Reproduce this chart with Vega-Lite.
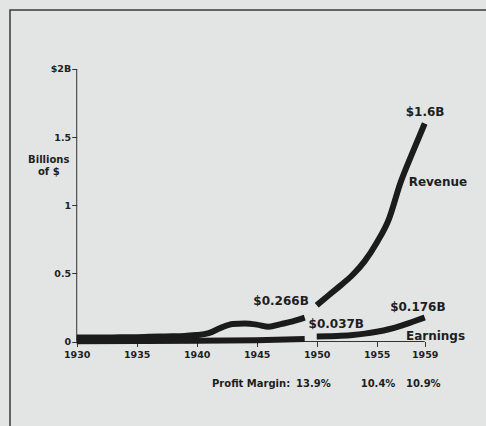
{
  "$schema": "https://vega.github.io/schema/vega-lite/v6.json",
  "width": 492,
  "height": 420,
  "autosize": {"type": "none"},
  "padding": {"left": 10, "top": 10, "right": 0, "bottom": 0},
  "background": "#e3e5e4",
  "config": {
    "view": {"stroke": "#3a3a3a", "strokeWidth": 1.5},
    "font": "DejaVu Sans",
    "axis": {"grid": false, "domain": false, "title": null, "labelFont": "DejaVu Sans", "labelFontWeight": "bold", "labelColor": "#222222", "tickColor": "#333333", "tickSize": 5, "tickWidth": 1}
  },
  "datasets": {
    "series": [
      {"year": 1930, "value": 0.030, "seg": "rev1"},
      {"year": 1931, "value": 0.030, "seg": "rev1"},
      {"year": 1932, "value": 0.030, "seg": "rev1"},
      {"year": 1933, "value": 0.030, "seg": "rev1"},
      {"year": 1934, "value": 0.031, "seg": "rev1"},
      {"year": 1935, "value": 0.032, "seg": "rev1"},
      {"year": 1936, "value": 0.034, "seg": "rev1"},
      {"year": 1937, "value": 0.036, "seg": "rev1"},
      {"year": 1938, "value": 0.038, "seg": "rev1"},
      {"year": 1939, "value": 0.041, "seg": "rev1"},
      {"year": 1940, "value": 0.047, "seg": "rev1"},
      {"year": 1941, "value": 0.062, "seg": "rev1"},
      {"year": 1942, "value": 0.100, "seg": "rev1"},
      {"year": 1943, "value": 0.128, "seg": "rev1"},
      {"year": 1944, "value": 0.132, "seg": "rev1"},
      {"year": 1945, "value": 0.124, "seg": "rev1"},
      {"year": 1946, "value": 0.108, "seg": "rev1"},
      {"year": 1947, "value": 0.128, "seg": "rev1"},
      {"year": 1948, "value": 0.148, "seg": "rev1"},
      {"year": 1949, "value": 0.175, "seg": "rev1"},
      {"year": 1950, "value": 0.266, "seg": "rev2"},
      {"year": 1951, "value": 0.340, "seg": "rev2"},
      {"year": 1952, "value": 0.412, "seg": "rev2"},
      {"year": 1953, "value": 0.490, "seg": "rev2"},
      {"year": 1954, "value": 0.590, "seg": "rev2"},
      {"year": 1955, "value": 0.725, "seg": "rev2"},
      {"year": 1956, "value": 0.895, "seg": "rev2"},
      {"year": 1957, "value": 1.170, "seg": "rev2"},
      {"year": 1958, "value": 1.390, "seg": "rev2"},
      {"year": 1959, "value": 1.600, "seg": "rev2"},
      {"year": 1930, "value": 0.002, "seg": "earn1"},
      {"year": 1935, "value": 0.003, "seg": "earn1"},
      {"year": 1940, "value": 0.005, "seg": "earn1"},
      {"year": 1945, "value": 0.010, "seg": "earn1"},
      {"year": 1949, "value": 0.018, "seg": "earn1"},
      {"year": 1950, "value": 0.037, "seg": "earn2"},
      {"year": 1951, "value": 0.038, "seg": "earn2"},
      {"year": 1952, "value": 0.042, "seg": "earn2"},
      {"year": 1953, "value": 0.048, "seg": "earn2"},
      {"year": 1954, "value": 0.058, "seg": "earn2"},
      {"year": 1955, "value": 0.072, "seg": "earn2"},
      {"year": 1956, "value": 0.090, "seg": "earn2"},
      {"year": 1957, "value": 0.115, "seg": "earn2"},
      {"year": 1958, "value": 0.145, "seg": "earn2"},
      {"year": 1959, "value": 0.176, "seg": "earn2"}
    ],
    "axislines": [
      {"x": 1930, "x2": 1930, "y": 0, "y2": 2},
      {"x": 1930, "x2": 1959, "y": 0, "y2": 0}
    ],
    "bigLabels": [
      {"year": 1959.03, "value": 1.687, "label": "$1.6B"},
      {"year": 1960.1, "value": 1.173, "label": "Revenue"},
      {"year": 1947.03, "value": 0.30, "label": "$0.266B"},
      {"year": 1951.63, "value": 0.128, "label": "$0.037B"},
      {"year": 1958.43, "value": 0.251, "label": "$0.176B"},
      {"year": 1959.9, "value": 0.043, "label": "Earnings"}
    ],
    "smallLabels": [
      {"year": 1927.67, "value": 1.334, "label": "Billions"},
      {"year": 1927.67, "value": 1.243, "label": "of $"},
      {"year": 1944.53, "value": -0.314, "label": "Profit Margin:"},
      {"year": 1949.72, "value": -0.314, "label": "13.9%"},
      {"year": 1955.11, "value": -0.314, "label": "10.4%"},
      {"year": 1958.88, "value": -0.314, "label": "10.9%"}
    ]
  },
  "encoding": {
    "x": {"field": "year", "type": "quantitative", "scale": {"domain": [1924.44, 1965.44], "zero": false, "nice": false},
      "axis": {"orient": "bottom", "offset": -88.5, "values": [1930, 1935, 1940, 1945, 1950, 1955, 1959], "format": "d", "labelFontSize": 9.5, "labelPadding": 3, "labelFlush": false}},
    "y": {"field": "value", "type": "quantitative", "scale": {"domain": [-0.6495, 2.433], "zero": false, "nice": false},
      "axis": {"orient": "left", "offset": -66.7, "values": [0, 0.5, 1, 1.5, 2], "format": ".1~f", "labelExpr": "datum.value == 2 ? '$2B' : datum.label", "labelFontSize": 9.5, "labelPadding": 1}}
  },
  "layer": [
    {
      "data": {"name": "axislines"},
      "mark": {"type": "rule", "color": "#333333", "strokeWidth": 1},
      "encoding": {
        "x": {"field": "x", "type": "quantitative"},
        "x2": {"field": "x2"},
        "y": {"field": "y", "type": "quantitative"},
        "y2": {"field": "y2"}
      }
    },
    {
      "data": {"name": "series"},
      "mark": {"type": "line", "color": "#1b1b1b", "strokeWidth": 6, "interpolate": "monotone", "strokeCap": "butt"},
      "encoding": {"detail": {"field": "seg", "type": "nominal"}}
    },
    {
      "data": {"name": "bigLabels"},
      "mark": {"type": "text", "font": "DejaVu Sans", "fontWeight": "bold", "fontSize": 12, "color": "#1e1e1e", "align": "center", "baseline": "middle"},
      "encoding": {"text": {"field": "label"}}
    },
    {
      "data": {"name": "smallLabels"},
      "mark": {"type": "text", "font": "DejaVu Sans", "fontWeight": "bold", "fontSize": 10, "color": "#1e1e1e", "align": "center", "baseline": "middle"},
      "encoding": {"text": {"field": "label"}}
    }
  ]
}
